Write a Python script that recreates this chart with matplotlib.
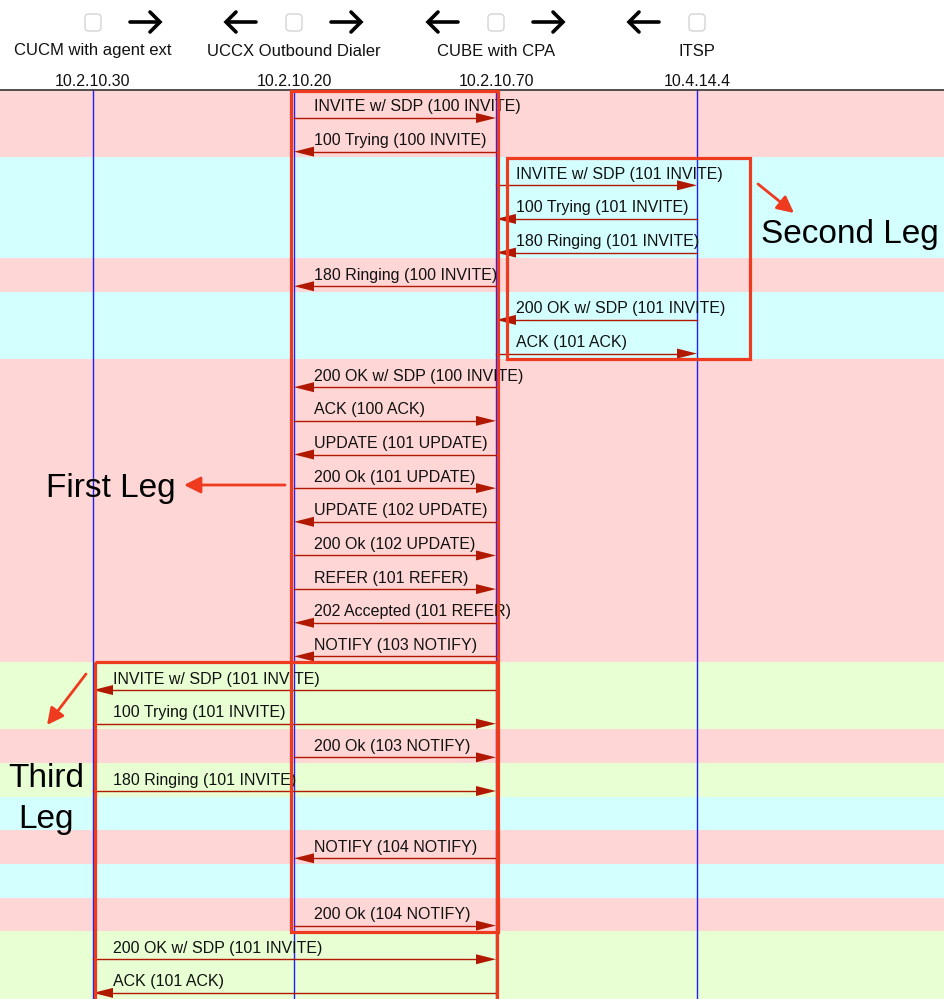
import matplotlib.pyplot as plt
from matplotlib.patches import Rectangle, FancyBboxPatch

plt.rcParams['font.family'] = ['Liberation Sans', 'DejaVu Sans']

# participants of the ladder diagram
participants = ["CUCM with agent ext", "UCCX Outbound Dialer", "CUBE with CPA", "ITSP"]
addresses = ["10.2.10.30", "10.2.10.20", "10.2.10.70", "10.4.14.4"]

# one entry per row: label, from lane, to lane, leg (colour of the row)
msg_labels = [
    "INVITE w/ SDP (100 INVITE)", "100 Trying (100 INVITE)",
    "INVITE w/ SDP (101 INVITE)", "100 Trying (101 INVITE)", "180 Ringing (101 INVITE)",
    "180 Ringing (100 INVITE)",
    "200 OK w/ SDP (101 INVITE)", "ACK (101 ACK)",
    "200 OK w/ SDP (100 INVITE)", "ACK (100 ACK)", "UPDATE (101 UPDATE)",
    "200 Ok (101 UPDATE)", "UPDATE (102 UPDATE)", "200 Ok (102 UPDATE)",
    "REFER (101 REFER)", "202 Accepted (101 REFER)", "NOTIFY (103 NOTIFY)",
    "INVITE w/ SDP (101 INVITE)", "100 Trying (101 INVITE)",
    "200 Ok (103 NOTIFY)",
    "180 Ringing (101 INVITE)",
    "",
    "NOTIFY (104 NOTIFY)",
    "",
    "200 Ok (104 NOTIFY)",
    "200 OK w/ SDP (101 INVITE)", "ACK (101 ACK)",
]
msg_src = [1, 2, 2, 3, 3, 2, 3, 2, 2, 1, 2, 1, 2, 1, 1, 2, 2, 2, 0, 1, 0, None, 2, None, 1, 0, 2]
msg_dst = [2, 1, 3, 2, 2, 1, 2, 3, 1, 2, 1, 2, 1, 2, 2, 1, 1, 0, 2, 2, 2, None, 1, None, 2, 2, 0]
msg_leg = [1, 1, 2, 2, 2, 1, 2, 2, 1, 1, 1, 1, 1, 1, 1, 1, 1, 3, 3, 1, 3, 2, 1, 2, 1, 3, 3]

leg_colors = {1: "#ffd6d6", 2: "#d4ffff", 3: "#e8ffd4"}
lane_x = [93, 294, 496, 697]
top = 90
row_h = 33.65
W, H = 944, 999

fig = plt.figure(figsize=(W / 100, H / 100), dpi=100)
ax = fig.add_axes([0, 0, 1, 1])
ax.set_xlim(0, W)
ax.set_ylim(H, 0)
ax.axis('off')

arrow_col = "#b01800"
red = "#ee3b1f"

# row backgrounds
for i, leg in enumerate(msg_leg):
    y0 = top + i * row_h
    ax.add_patch(Rectangle((0, y0), W, row_h + 0.5, color=leg_colors[leg], lw=0, zorder=0))

# lifelines
for x in lane_x:
    ax.plot([x, x], [top, H], color="#2020ff", lw=1.0, zorder=1)
ax.plot([0, W], [top, top], color="#333333", lw=1.2, zorder=2)

# header
for i, x in enumerate(lane_x):
    ax.add_patch(FancyBboxPatch((x - 8, 14), 16, 17, boxstyle="round,pad=0,rounding_size=4",
                                fc="white", ec="#d4d4d4", lw=1, zorder=3))
    ax.text(x, 51, participants[i], ha='center', va='center', fontsize=12, color="#111111")
    ax.text(x, 81, addresses[i], ha='center', va='center', fontsize=11.5, color="#111111")
    if i < len(lane_x) - 1:
        cx = x + 52
        ax.plot([cx - 15, cx + 14], [22, 22], color='black', lw=2.6, solid_capstyle='round')
        ax.plot([cx + 5, cx + 15, cx + 5], [12, 22, 32], color='black', lw=2.6,
                solid_capstyle='round', solid_joinstyle='miter')
    if i > 0:
        cx = x - 53
        ax.plot([cx - 14, cx + 15], [22, 22], color='black', lw=2.6, solid_capstyle='round')
        ax.plot([cx - 5, cx - 15, cx - 5], [12, 22, 32], color='black', lw=2.6,
                solid_capstyle='round', solid_joinstyle='miter')

# messages
for i, label in enumerate(msg_labels):
    if msg_src[i] is None:
        continue
    y0 = top + i * row_h
    xa, xb = lane_x[msg_src[i]], lane_x[msg_dst[i]]
    ya = y0 + 28
    d = 1 if xb > xa else -1
    ax.plot([xa, xb - d * 16], [ya, ya], color=arrow_col, lw=1.0, zorder=4)
    ax.fill([xb, xb - d * 20, xb - d * 20], [ya, ya - 5, ya + 5], color=arrow_col, lw=0, zorder=4)
    ax.text(min(xa, xb) + 20, y0 + 17, label, ha='left', va='center', fontsize=11.5,
            color="#111111", zorder=5)

# annotation boxes for the three legs
ax.add_patch(Rectangle((291, top + 1), 207, 841, fill=False, ec=red, lw=2.3, zorder=6))
ax.add_patch(Rectangle((507, top + 2 * row_h + 1), 243, 201, fill=False, ec=red, lw=2.3, zorder=6))
ax.add_patch(Rectangle((95, top + 17 * row_h), 402, 345, fill=False, ec=red, lw=2.3, zorder=6))

ax.annotate("", xy=(794, 213), xytext=(758, 184),
            arrowprops=dict(arrowstyle="-|>,head_length=1.0,head_width=0.5", color=red, lw=2, shrinkA=0, shrinkB=0))
ax.annotate("", xy=(184, 485), xytext=(285, 485),
            arrowprops=dict(arrowstyle="-|>,head_length=1.0,head_width=0.5", color=red, lw=2, shrinkA=0, shrinkB=0))
ax.annotate("", xy=(47, 725), xytext=(86, 674),
            arrowprops=dict(arrowstyle="-|>,head_length=1.0,head_width=0.5", color=red, lw=2, shrinkA=0, shrinkB=0))

ax.text(850, 234, "Second Leg", ha='center', va='center', fontsize=24, color='black', zorder=7)
ax.text(111, 488, "First Leg", ha='center', va='center', fontsize=24, color='black', zorder=7)
ax.text(46, 799, "Third\nLeg", ha='center', va='center', fontsize=24, color='black',
        linespacing=1.4, zorder=7)

fig.savefig("out.png", dpi=100)
